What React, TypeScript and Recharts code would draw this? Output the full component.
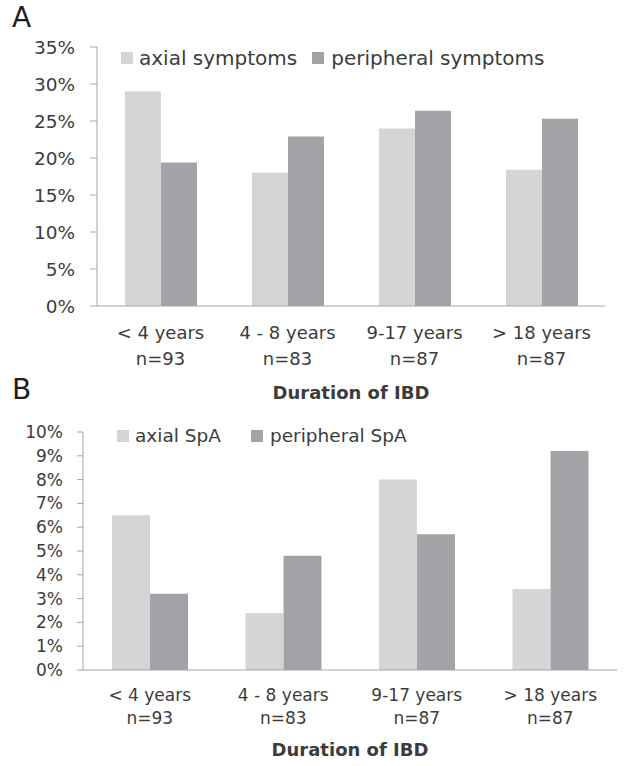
import React from "react";
import { BarChart, Bar, XAxis, YAxis } from "recharts";

const categories = ["< 4 years", "4 - 8 years", "9-17 years", "> 18 years"];
const sampleSizes = ["n=93", "n=83", "n=87", "n=87"];

// panel A: symptoms (%)
const axialSymptoms = [29.0, 18.0, 24.0, 18.4];
const peripheralSymptoms = [19.4, 22.9, 26.4, 25.3];
const symptomTicks = [0, 5, 10, 15, 20, 25, 30, 35];

// panel B: SpA (%)
const axialSpA = [6.5, 2.4, 8.0, 3.4];
const peripheralSpA = [3.2, 4.8, 5.7, 9.2];
const spaTicks = [0, 1, 2, 3, 4, 5, 6, 7, 8, 9, 10];

const axisTitle = "Duration of IBD";

const FONT = "'DejaVu Sans', sans-serif";
const TEXT = "#3c3c3c";
const AXIS = "#a6a6a6";
const LIGHT = "#d4d5d7";
const DARK = "#a2a3a7";

const build = (a: number[], p: number[]) =>
  categories.map((c, i) => ({ name: c, n: sampleSizes[i], axial: a[i], peripheral: p[i] }));

const XTick = ({ x, y, payload, fs, d1, d2 }: any) => (
  <text x={x} y={y} textAnchor="middle" fill={TEXT} fontSize={fs} fontFamily={FONT}>
    <tspan x={x} dy={d1}>{payload.value}</tspan>
    <tspan x={x} y={y + d2}>{sampleSizes[payload.index]}</tspan>
  </text>
);

const Legend = ({ left, top, gap, fs, names }: any) => (
  <div
    style={{
      position: "absolute", left, top, display: "flex", alignItems: "center",
      fontFamily: FONT, fontSize: fs, color: TEXT, whiteSpace: "nowrap",
    }}
  >
    <span style={{ width: 12, height: 12, background: LIGHT, marginRight: 6 }} />
    <span style={{ marginRight: gap }}>{names[0]}</span>
    <span style={{ width: 12, height: 12, background: DARK, marginRight: 7 }} />
    <span>{names[1]}</span>
  </div>
);

const Panel = (props: any) => {
  const {
    top, height, data, ticks, margin, yWidth, yTickSize, yTickMargin, yFont,
    xHeight, barSize, tickFont, d1, d2, titleDy,
  } = props;
  return (
    <div style={{ position: "absolute", left: 0, top }}>
      <BarChart width={624} height={height} data={data} margin={margin} barGap={0}>
        <XAxis
          dataKey="name"
          height={xHeight}
          stroke={AXIS}
          tickLine={false}
          tickSize={0}
          tickMargin={0}
          interval={0}
          tick={<XTick fs={tickFont} d1={d1} d2={d2} />}
          label={{
            content: ({ viewBox }: any) => (
              <text
                x={viewBox.x + viewBox.width / 2}
                y={viewBox.y + titleDy}
                textAnchor="middle"
                fill={TEXT}
                fontSize={18}
                fontWeight="bold"
                fontFamily={FONT}
              >
                {axisTitle}
              </text>
            ),
          }}
        />
        <YAxis
          width={yWidth}
          domain={[ticks[0], ticks[ticks.length - 1]]}
          ticks={ticks}
          interval={0}
          stroke={AXIS}
          tickSize={yTickSize}
          tickMargin={yTickMargin}
          tickFormatter={(v: number) => `${v}%`}
          tick={{ fill: TEXT, fontSize: yFont, fontFamily: FONT }}
        />
        <Bar dataKey="axial" fill={LIGHT} barSize={barSize} isAnimationActive={false} />
        <Bar dataKey="peripheral" fill={DARK} barSize={barSize} isAnimationActive={false} />
      </BarChart>
    </div>
  );
};

const Letter = ({ top, children }: any) => (
  <div
    style={{
      position: "absolute", left: 12, top, fontFamily: FONT, fontSize: 28,
      lineHeight: 1, color: "#1e1e1e",
    }}
  >
    {children}
  </div>
);

export default function App() {
  return (
    <div style={{ position: "absolute", left: 0, top: 0, width: 624, height: 766, background: "#fff" }}>
      <Panel
        top={0}
        height={410}
        data={build(axialSymptoms, peripheralSymptoms)}
        ticks={symptomTicks}
        margin={{ top: 47, right: 19, left: 0, bottom: 4 }}
        yWidth={97}
        yTickSize={7}
        yTickMargin={15}
        yFont={18.5}
        xHeight={100}
        barSize={36}
        tickFont={18}
        d1={33}
        d2={59}
        titleDy={93}
      />
      <Legend left={121} top={46} gap={15} fs={20} names={["axial symptoms", "peripheral symptoms"]} />
      <Letter top={4}>A</Letter>

      <Panel
        top={400}
        height={366}
        data={build(axialSpA, peripheralSpA)}
        ticks={spaTicks}
        margin={{ top: 32, right: 7, left: 0, bottom: 4 }}
        yWidth={83}
        yTickSize={6}
        yTickMargin={14}
        yFont={17}
        xHeight={92}
        barSize={38}
        tickFont={17}
        d1={31}
        d2={54}
        titleDy={86}
      />
      <Legend left={117} top={425} gap={30} fs={18.5} names={["axial SpA", "peripheral SpA"]} />
      <Letter top={376}>B</Letter>
    </div>
  );
}
